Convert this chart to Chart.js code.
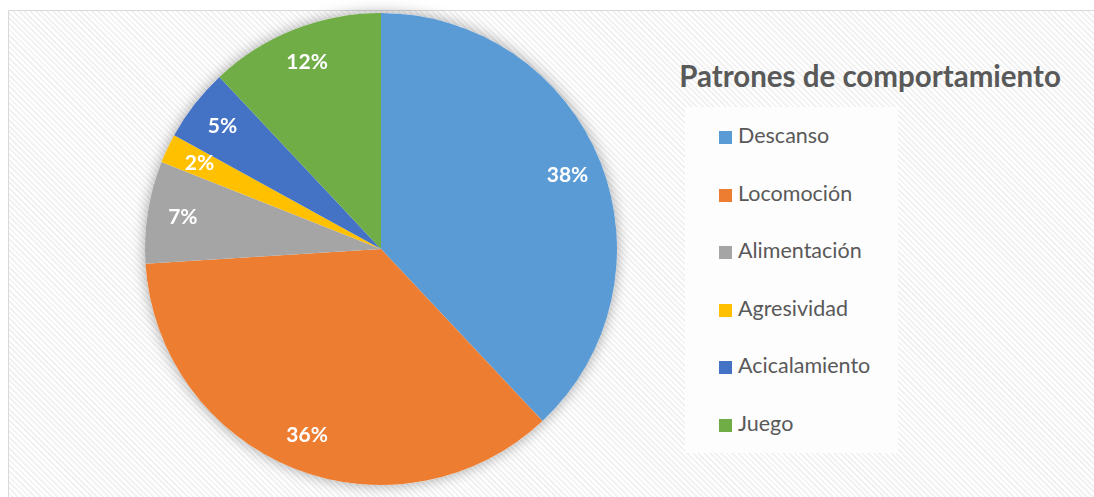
<!DOCTYPE html>
<html>
<head>
<meta charset="utf-8">
<script src="https://cdn.jsdelivr.net/npm/chart.js@4.4.1/dist/chart.umd.min.js"></script>
<style>
  body { margin: 0; background: #fff; width: 1094px; height: 497px; overflow: hidden; position: relative; font-family: Lato, "Open Sans", sans-serif; }
  #frame {
    position: absolute; left: 8px; top: 10px; width: 1100px; height: 500px;
    border: 1px solid #d9d9d9; box-sizing: border-box;
    background: repeating-linear-gradient(45deg, #ffffff 0px, #ffffff 2px, #f2f2f2 2px, #f2f2f2 4px);
  }
  #pieWrap { position: absolute; left: 125px; top: 0px; width: 512px; height: 497px; }
  #title {
    position: absolute; left: 660px; top: 58px; width: 420px; text-align: center;
    font-weight: bold; font-size: 29.5px; color: #595959; white-space: nowrap;
  }
  #legend {
    position: absolute; left: 685px; top: 107px; width: 213px; height: 346px;
    background: #fdfdfd;
  }
  .item { position: absolute; left: 34px; height: 26px; font-size: 21.5px; color: #595959; white-space: nowrap; line-height: 26px; }
  .item span.box { display: inline-block; width: 13px; height: 13px; margin-right: 6px; vertical-align: -1px; }
</style>
</head>
<body>
<div id="frame"></div>
<div id="pieWrap"><canvas id="graph"></canvas></div>
<div id="title">Patrones de comportamiento</div>
<div id="legend"></div>
<script>
var categories = ['Descanso', 'Locomoción', 'Alimentación', 'Agresividad', 'Acicalamiento', 'Juego'];
var percents = [38, 36, 7, 2, 5, 12];
var colors = ['#5B9BD5', '#ED7D31', '#A5A5A5', '#FFC000', '#4472C4', '#70AD47'];

// legend built from the arrays
var legend = document.getElementById('legend');
categories.forEach(function (name, i) {
    var div = document.createElement('div');
    div.className = 'item';
    div.style.top = (15 + i * 57.6) + 'px';
    div.innerHTML = '<span class="box" style="background:' + colors[i] + '"></span>' + name;
    legend.appendChild(div);
});

// soft shadow under the pie
var shadowPlugin = {
    id: 'pieShadow',
    beforeDatasetsDraw: function (chart) {
        var arc = chart.getDatasetMeta(0).data[0];
        var ctx = chart.ctx;
        ctx.save();
        ctx.shadowColor = 'rgba(0,0,0,0.35)';
        ctx.shadowBlur = 14;
        ctx.fillStyle = '#ffffff';
        ctx.beginPath();
        ctx.arc(arc.x, arc.y, arc.outerRadius, 0, Math.PI * 2);
        ctx.fill();
        ctx.restore();
    }
};

// percent labels inside slices
var labelPlugin = {
    id: 'pctLabels',
    afterDatasetsDraw: function (chart) {
        var ctx = chart.ctx;
        var meta = chart.getDatasetMeta(0);
        ctx.save();
        ctx.fillStyle = '#ffffff';
        ctx.font = 'bold 21px Lato, "Open Sans", sans-serif';
        ctx.textAlign = 'center';
        ctx.textBaseline = 'middle';
        meta.data.forEach(function (arc, i) {
            var mid = (arc.startAngle + arc.endAngle) / 2;
            var d = arc.outerRadius * 0.85;
            ctx.fillText(percents[i] + '%', arc.x + Math.cos(mid) * d, arc.y + Math.sin(mid) * d);
        });
        ctx.restore();
    }
};

var context = document.querySelector('#graph').getContext('2d');

var chart = new Chart(context, {
    type: 'pie',
    data: {
        labels: categories,
        datasets: [{
            data: percents,
            backgroundColor: colors,
            borderWidth: 0
        }]
    },
    options: {
        responsive: true,
        maintainAspectRatio: false,
        animation: false,
        layout: { padding: { left: 20, right: 20, top: 13, bottom: 12 } },
        plugins: {
            legend: { display: false },
            title: { display: false },
            tooltip: { enabled: false }
        }
    },
    plugins: [shadowPlugin, labelPlugin]
});
</script>
</body>
</html>
